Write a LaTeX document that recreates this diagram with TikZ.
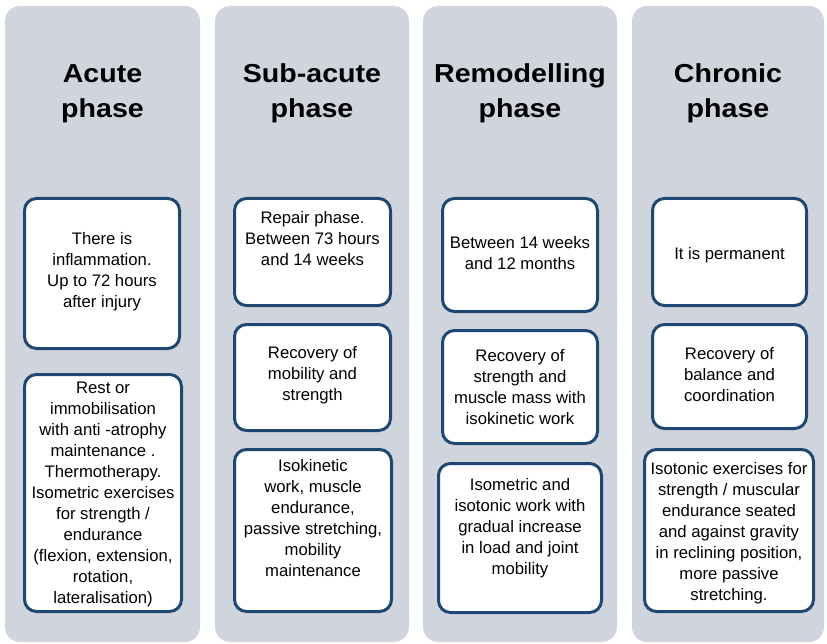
\documentclass[tikz,border=0pt]{standalone}
\usepackage{fontspec}
\setmainfont{Liberation Sans}
\newfontfamily\titlefont[FakeStretch=1.1]{Liberation Sans}
\definecolor{colgrey}{RGB}{208,212,221}
\definecolor{boxblue}{RGB}{30,72,115}
\begin{document}
\begin{tikzpicture}[x=1pt,y=-1pt,
  phasecol/.style={fill=colgrey, rounded corners=15pt, inner sep=0pt, minimum height=636pt},
  phasetitle/.style={font=\titlefont\bfseries\fontsize{26}{35}\selectfont, align=center, inner sep=0pt},
  infobox/.style={draw=boxblue, line width=3pt, fill=white, rounded corners=12pt, inner sep=0pt},
  infotext/.style={font=\fontsize{16.7}{21}\selectfont, align=center, inner sep=0pt}]
\useasboundingbox[fill=white] (0,0) rectangle (827,644);
% columns
\node[phasecol, minimum width=195pt] (c1) at (102.5,324) {};
\node[phasecol, minimum width=194pt] (c2) at (312,324) {};
\node[phasecol, minimum width=194pt] (c3) at (520,324) {};
\node[phasecol, minimum width=192pt] (c4) at (728,324) {};
% titles
\node[phasetitle] (t1) at (102.5,93.5) {Acute\\phase};
\node[phasetitle] (t2) at (312,93.5) {Sub-acute\\phase};
\node[phasetitle] (t3) at (520,93.5) {Remodelling\\phase};
\node[phasetitle] (t4) at (728,93.5) {Chronic\\phase};
% boxes column 1
\node[infobox, minimum width=155pt, minimum height=150pt] (b11) at (102,273.5) {};
\node[infobox, minimum width=157pt, minimum height=237pt] (b12) at (103,493) {};
% column 2
\node[infobox, minimum width=156pt, minimum height=107pt] (b21) at (312.5,252) {};
\node[infobox, minimum width=156pt, minimum height=106pt] (b22) at (312.5,377.5) {};
\node[infobox, minimum width=157pt, minimum height=162pt] (b23) at (313,530.5) {};
% column 3
\node[infobox, minimum width=155pt, minimum height=113pt] (b31) at (520,255) {};
\node[infobox, minimum width=155pt, minimum height=113pt] (b32) at (520,387) {};
\node[infobox, minimum width=163pt, minimum height=149pt] (b33) at (520,538) {};
% column 4
\node[infobox, minimum width=154pt, minimum height=107pt] (b41) at (729.5,252) {};
\node[infobox, minimum width=154pt, minimum height=104pt] (b42) at (729.5,376.5) {};
\node[infobox, minimum width=169pt, minimum height=162pt] (b43) at (729,530.5) {};
% texts
\node[infotext] (x11) at (102,272) {There is\\inflammation.\\Up to 72 hours\\after injury};
\node[infotext] (x12) at (103,494) {Rest or\\immobilisation\\with anti -atrophy\\maintenance .\\Thermotherapy.\\Isometric exercises\\for strength /\\endurance\\(flexion, extension,\\rotation,\\lateralisation)};
\node[infotext] (x21) at (312.5,239) {Repair phase.\\Between 73 hours\\and 14 weeks};
\node[infotext] (x22) at (312.5,375) {Recovery of\\mobility and\\strength};
\node[infotext] (x23) at (313,518.5) {Isokinetic\\work, muscle\\endurance,\\passive stretching,\\mobility\\maintenance};
\node[infotext] (x31) at (520,253.5) {Between 14 weeks\\and 12 months};
\node[infotext] (x32) at (520,387) {Recovery of\\strength and\\muscle mass with\\isokinetic work};
\node[infotext] (x33) at (520,528) {Isometric and\\isotonic work with\\gradual increase\\in load and joint\\mobility};
\node[infotext] (x41) at (729.5,255.5) {It is permanent};
\node[infotext] (x42) at (729.5,374.5) {Recovery of\\balance and\\coordination};
\node[infotext] (x43) at (729,533.5) {Isotonic exercises for\\strength / muscular\\endurance seated\\and against gravity\\in reclining position,\\more passive\\stretching.};
\end{tikzpicture}
\end{document}
